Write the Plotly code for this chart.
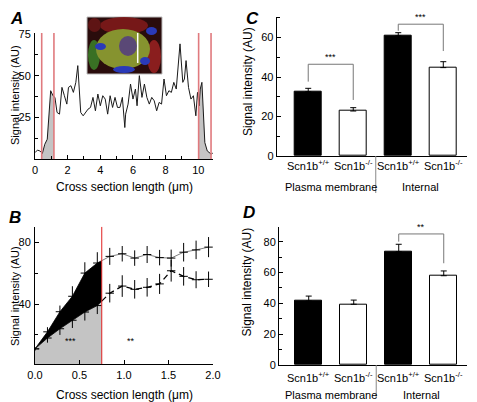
import numpy as np
import plotly.graph_objects as go

W, H = 477, 402
OFF = 8  # page body margin in the browser
def px(x): return (x - OFF) / W
def py(y): return 1 - (y - OFF) / H

FONT = "Liberation Sans, Arial, sans-serif"

# ---------------- Panel A data ----------------
a_x = [0.0, 0.15, 0.3, 0.45, 0.6, 0.75, 0.96, 1.1, 1.22, 1.35, 1.5, 1.65, 1.8, 1.95, 2.05, 2.2, 2.35, 2.5, 2.62,
       2.8, 2.95, 3.1, 3.25, 3.4, 3.55, 3.7, 3.85, 4.0, 4.15, 4.3, 4.45, 4.6, 4.75, 4.9, 5.05, 5.2, 5.35,
       5.5, 5.55, 5.7, 5.85, 6.0, 6.15, 6.25, 6.39, 6.55, 6.7, 6.85, 7.0, 7.15, 7.3, 7.45, 7.6, 7.75, 7.9,
       8.05, 8.2, 8.35, 8.5, 8.65, 8.75, 8.88, 9.05, 9.15, 9.25, 9.4, 9.55, 9.7, 9.85, 9.95, 10.05, 10.12,
       10.22, 10.4, 10.55, 10.7, 10.8, 10.9]
a_y = [4, 5.5, 5, 3.5, 9, 12, 41, 38, 37, 28, 27, 43, 38, 33, 43, 44, 40, 46, 56,
       28, 26, 28, 30, 31, 37, 29, 39, 32, 38, 36, 27, 38, 31, 37, 31, 31,
       37, 19, 27, 33, 45, 36, 42, 32, 50, 37, 45, 37, 33, 37, 35, 29, 34, 33,
       48, 38, 41, 40, 46, 42, 52, 69, 46, 48, 59, 43, 36, 38, 26, 40, 32, 42,
       46, 10, 5, 4, 3, 4]
a_red_lines = [0.41, 1.16, 10.02, 10.78]

# ---------------- Panel B data ----------------
b_x = [0.00, 0.14, 0.28, 0.42, 0.56, 0.70, 0.84, 0.98, 1.12, 1.26, 1.40, 1.53, 1.67, 1.81, 1.95]
b_wt = [11, 22, 35, 45, 60, 66.5, 70.8, 72.5, 69.7, 72, 70, 69.7, 73.5, 75, 76.8]
b_wt_err = [1, 3, 4, 6.5, 7, 7, 5.5, 5, 5, 5.5, 5, 5.5, 6, 6, 6.5]
b_ko = [11, 18, 24, 29.5, 34.8, 39, 47, 51.6, 49.5, 50.8, 53, 61.5, 57.9, 55.7, 56]
b_ko_err = [1, 3, 4, 5, 5.5, 5.5, 6, 7, 6, 6, 6.5, 7, 6, 5.5, 5]
b_boundary = 0.75

# ---------------- Panel C / D data ----------------
bar_labels = ["Scn1b<sup>+/+</sup>", "Scn1b<sup>-/-</sup>", "Scn1b<sup>+/+</sup>", "Scn1b<sup>-/-</sup>"]
group_labels = ["Plasma membrane", "Internal"]
c_vals = [32.6, 22.8, 60.9, 44.8]
c_err = [1.7, 1.7, 1.6, 3.0]
d_vals = [41.5, 39.4, 73.5, 57.9]
d_err = [3.2, 2.7, 4.8, 3.1]

fig = go.Figure()

# ---- Panel A ----
xa = np.array(a_x); ya = np.array(a_y)
for l, r in [(a_red_lines[0], a_red_lines[1]), (a_red_lines[2], a_red_lines[3])]:
    inner = [(x, y) for x, y in zip(a_x, a_y) if l < x < r]
    xs = [l] + [p[0] for p in inner] + [r]
    ys = [float(np.interp(l, xa, ya))] + [p[1] for p in inner] + [float(np.interp(r, xa, ya))]
    fig.add_trace(go.Scatter(x=xs, y=ys, mode="lines", fill="tozeroy", fillcolor="#c4c4c4",
                             line=dict(width=0), xaxis="x", yaxis="y", showlegend=False, hoverinfo="skip"))
fig.add_trace(go.Scatter(x=a_x, y=a_y, mode="lines", line=dict(color="#1a1a1a", width=1),
                         xaxis="x", yaxis="y", showlegend=False))

# ---- Panel B ----
xb = np.array(b_x)
ko_b = float(np.interp(b_boundary, xb, np.array(b_ko)))
wt_b = float(np.interp(b_boundary, xb, np.array(b_wt)))
n_in = sum(1 for x in b_x if x < b_boundary)
fx = b_x[:n_in] + [b_boundary]
fig.add_trace(go.Scatter(x=fx, y=b_ko[:n_in] + [ko_b], mode="lines", fill="tozeroy", fillcolor="#c4c4c4",
                         line=dict(width=0.8, color="#000"), xaxis="x2", yaxis="y2", showlegend=False, hoverinfo="skip"))
fig.add_trace(go.Scatter(x=fx, y=b_wt[:n_in] + [wt_b], mode="lines", fill="tonexty", fillcolor="#000000",
                         line=dict(width=0.8, color="#000"), xaxis="x2", yaxis="y2", showlegend=False, hoverinfo="skip"))
fig.add_trace(go.Scatter(x=[b_boundary] + b_x[n_in:], y=[wt_b] + b_wt[n_in:], mode="lines",
                         line=dict(color="#808080", width=1), xaxis="x2", yaxis="y2", showlegend=False))
fig.add_trace(go.Scatter(x=[b_boundary] + b_x[n_in:], y=[ko_b] + b_ko[n_in:], mode="lines",
                         line=dict(color="#000", width=1.3, dash="6px,4px"), xaxis="x2", yaxis="y2", showlegend=False))
for ys, es in [(b_wt, b_wt_err), (b_ko, b_ko_err)]:
    fig.add_trace(go.Scatter(x=b_x, y=ys, mode="markers",
                             marker=dict(symbol="line-ew", size=6, line=dict(color="#000", width=1)),
                             error_y=dict(type="data", array=es, color="#000", thickness=1, width=0),
                             xaxis="x2", yaxis="y2", showlegend=False))

# ---- Panel C / D ----
bar_x = [0, 1, 2, 3]
for vals, errs, xa_, ya_ in [(c_vals, c_err, "x3", "y3"), (d_vals, d_err, "x4", "y4")]:
    fig.add_trace(go.Bar(x=bar_x, y=vals, width=0.61,
                         marker=dict(color=["#000", "#fff", "#000", "#fff"], line=dict(color="#000", width=1)),
                         error_y=dict(type="data", array=errs, arrayminus=[0, 0, 0, 0], symmetric=False,
                                      color="#000", thickness=1, width=3),
                         xaxis=xa_, yaxis=ya_, showlegend=False))

def ax(**kw):
    d = dict(showline=True, linecolor="#000", linewidth=1, ticks="inside", ticklen=4,
             tickcolor="#000", showgrid=False, zeroline=False, automargin=False,
             tickfont=dict(family=FONT, size=11, color="#000"))
    d.update(kw)
    return d

def minor(step):
    return dict(dtick=step, tick0=0, ticks="inside", ticklen=3, tickcolor="#000", showgrid=False)

layout = dict(
    template="none",
    width=W, height=H, margin=dict(l=0, r=0, t=0, b=0, pad=0, autoexpand=False),
    paper_bgcolor="white", plot_bgcolor="white",
    font=dict(family=FONT, size=11, color="#000"),
    bargap=0,
    xaxis=ax(domain=[px(35), px(213)], range=[0, 10.9], anchor="y",
             tickvals=[0, 2, 4, 6, 8, 10], minor=minor(1)),
    yaxis=ax(domain=[py(159.3), py(33)], range=[0, 75.5], anchor="x",
             tickvals=[25, 50, 75], minor=minor(12.5), ticklabelstandoff=1),
    xaxis2=ax(domain=[px(35), px(213)], range=[0, 2.0], anchor="y2",
              tickvals=[0, 0.5, 1.0, 1.5, 2.0], ticktext=["0.0", "0.5", "1.0", "1.5", "2.0"]),
    yaxis2=ax(domain=[py(364.3), py(226.7)], range=[1, 90], anchor="x2",
              tickvals=[40, 80], minor=minor(20), ticklabelstandoff=1),
    xaxis3=ax(domain=[px(276.7), px(466.7)], range=[-0.7, 3.52], anchor="y3",
              ticks="", showticklabels=False),
    yaxis3=ax(domain=[py(156), py(16.7)], range=[0, 70.6], anchor="x3",
              tickvals=[0, 20, 40, 60], minor=minor(10)),
    xaxis4=ax(domain=[px(279), px(466.7)], range=[-0.66, 3.51], anchor="y4",
              ticks="", showticklabels=False),
    yaxis4=ax(domain=[py(365), py(226.7)], range=[0, 89.7], anchor="x4",
              tickvals=[0, 20, 40, 60, 80], minor=minor(10)),
)
fig.update_layout(**layout)

shapes = []
ann = []

def text(x, y, s, size=11, xref="paper", yref="paper", **kw):
    d = dict(xref=xref, yref=yref, x=x, y=y, text=s, showarrow=False,
             xanchor="center", yanchor="middle", font=dict(family=FONT, size=size, color="#000"))
    d.update(kw)
    ann.append(d)

# Red lines panel A
for xr in a_red_lines:
    shapes.append(dict(type="line", xref="x", yref="y", x0=xr, x1=xr, y0=0, y1=75.5,
                       line=dict(color="#e07a7e", width=1.6)))
# Red line panel B
shapes.append(dict(type="line", xref="x2", yref="y2", x0=b_boundary, x1=b_boundary, y0=1, y1=90,
                   line=dict(color="#e02020", width=1)))

# Inset micrograph (schematic)
def prect(x0, y0, x1, y1, **kw):
    return dict(xref="paper", yref="paper", x0=px(x0), x1=px(x1), y0=py(y1), y1=py(y0), **kw)
shapes.append(prect(87, 17, 162, 74, type="rect", fillcolor="#2a0c0c", line=dict(color="#bbbbbb", width=1)))
shapes.append(prect(100, 17, 148, 34, type="circle", fillcolor="#7e1a1a", line=dict(width=0), opacity=0.9))
shapes.append(prect(88, 18, 101, 32, type="circle", fillcolor="#5e1414", line=dict(width=0)))
shapes.append(prect(147, 40, 161, 73, type="circle", fillcolor="#8a1e1e", line=dict(width=0)))
shapes.append(prect(88, 40, 100, 70, type="circle", fillcolor="#3d8a2a", line=dict(width=0), opacity=0.8))
shapes.append(prect(96, 29, 150, 69, type="circle", fillcolor="#86932f", line=dict(width=0)))
shapes.append(prect(119, 36, 137, 56, type="circle", fillcolor="#5a4876", line=dict(width=0)))
shapes.append(prect(95, 43, 106, 50, type="circle", fillcolor="#2a3ab8", line=dict(width=0)))
shapes.append(prect(113, 66, 135, 73, type="circle", fillcolor="#2a3ab8", line=dict(width=0)))
shapes.append(prect(140, 57, 150, 65, type="circle", fillcolor="#2a3ab8", line=dict(width=0)))
shapes.append(prect(146, 27, 157, 35, type="circle", fillcolor="#2a3ab8", line=dict(width=0)))
shapes.append(dict(type="line", xref="paper", yref="paper", x0=px(137.7), x1=px(137.7), y0=py(63), y1=py(33),
                   line=dict(color="#ffffff", width=1.5)))

# Significance brackets
def bracket(xr, yr, x0, x1, yl, yr_, ytop, s):
    shapes.append(dict(type="path", xref=xr, yref=yr,
                       path=f"M {x0},{yl} L {x0},{ytop} L {x1},{ytop} L {x1},{yr_}",
                       line=dict(color="#777777", width=1)))
    text((x0 + x1) / 2, ytop, s, size=9, xref=xr, yref=yr, yanchor="bottom")
bracket("x3", "y3", 0, 1, 37.7, 28.4, 46.5, "***")
bracket("x3", "y3", 2, 3, 63.5, 53.2, 66.8, "***")
bracket("x4", "y4", 2, 3, 80, 66, 85, "**")

# Bar labels
for xr, yrow1, yrow2, ysep0, ysep1 in [("x3", 165, 186.7, 156, 193), ("x4", 376.7, 394.5, 365, 398)]:
    for i, lab in enumerate(bar_labels):
        text(bar_x[i], py(yrow1), lab, size=11, xref=xr)
    for j, g in enumerate(group_labels):
        text(0.5 + 2 * j, py(yrow2), g, size=11, xref=xr)
    shapes.append(dict(type="line", xref=xr, yref="paper", x0=1.5, x1=1.5, y0=py(ysep1), y1=py(ysep0),
                       line=dict(color="#888888", width=1)))

# B stars
text(0.4, 16, "***", size=9, xref="x2", yref="y2")
text(1.08, 16, "**", size=9, xref="x2", yref="y2")

# Axis titles
ytitle = "Signal intensity (AU)"
xtitle = "Cross section length (\u03bcm)"
for (x, y, s) in [(15, 95, 11), (15, 296, 11), (248, 82, 12), (246.5, 282, 12)]:
    text(px(x), py(y), ytitle, size=s, textangle=-90)
for (x, y) in [(124, 186.7), (124, 394.5)]:
    text(px(x), py(y), xtitle, size=12)

# Panel letters
for lab, (x, y) in zip("ABCD", [(16, 18), (15, 217), (252, 18), (249, 212)]):
    text(px(x), py(y), f"<b><i>{lab}</i></b>", size=17)

fig.update_layout(shapes=shapes, annotations=ann)
fig.write_html("out.html")
